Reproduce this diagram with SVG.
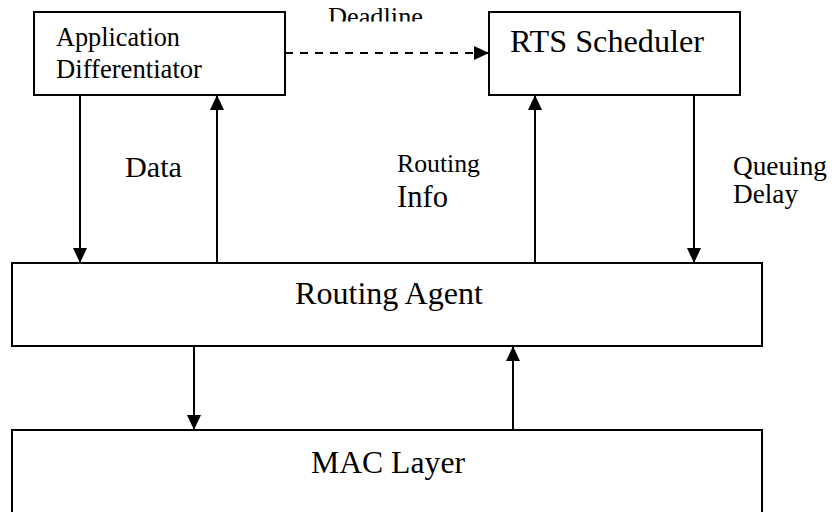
<svg xmlns="http://www.w3.org/2000/svg" width="832" height="512" viewBox="0 0 832 512">
<style>
.box{fill:#fff;stroke:#000;stroke-width:2}
.t{font-family:"Liberation Serif","Times New Roman",serif;fill:#000}
.ln{stroke:#000;stroke-width:2;fill:none}
.dash{stroke-dasharray:8 7}
</style>
<defs>
<marker id="ah" markerUnits="userSpaceOnUse" markerWidth="15" markerHeight="14" refX="15" refY="7" orient="auto">
<path d="M0,0 L15,7 L0,14 z" fill="#000"/>
</marker>
<clipPath id="clipTop"><rect x="0" y="0" width="832" height="21.5"/></clipPath>
</defs>
<rect width="832" height="512" fill="#fff"/>
<g id="app">
<rect class="box" x="34" y="12" width="251" height="83"/>
<text class="t" x="56" y="46" font-size="28" textLength="124" lengthAdjust="spacingAndGlyphs">Application</text>
<text class="t" x="56" y="78" font-size="28" textLength="146" lengthAdjust="spacingAndGlyphs">Differentiator</text>
</g>
<g id="rts">
<rect class="box" x="489" y="12" width="251" height="83"/>
<text class="t" x="510" y="52" font-size="32" textLength="194" lengthAdjust="spacingAndGlyphs">RTS Scheduler</text>
</g>
<g id="routing">
<rect class="box" x="12" y="263" width="750" height="83"/>
<text class="t" x="295" y="304" font-size="32" textLength="188" lengthAdjust="spacingAndGlyphs">Routing Agent</text>
</g>
<g id="mac">
<rect class="box" x="12" y="430" width="750" height="100"/>
<text class="t" x="311" y="473" font-size="32" textLength="154" lengthAdjust="spacingAndGlyphs">MAC Layer</text>
</g>
<g id="connectors">
<line class="ln dash" x1="285" y1="53" x2="489" y2="53" marker-end="url(#ah)"/>
<line class="ln" x1="80" y1="95" x2="80" y2="263" marker-end="url(#ah)"/>
<line class="ln" x1="217" y1="263" x2="217" y2="95" marker-end="url(#ah)"/>
<line class="ln" x1="535" y1="263" x2="535" y2="95" marker-end="url(#ah)"/>
<line class="ln" x1="694" y1="95" x2="694" y2="263" marker-end="url(#ah)"/>
<line class="ln" x1="194" y1="346" x2="194" y2="430" marker-end="url(#ah)"/>
<line class="ln" x1="513" y1="430" x2="513" y2="346" marker-end="url(#ah)"/>
</g>
<g id="labels">
<text class="t" x="328" y="25" font-size="26" textLength="95" lengthAdjust="spacingAndGlyphs" clip-path="url(#clipTop)">Deadline</text>
<text class="t" x="125" y="177" font-size="30" textLength="57" lengthAdjust="spacingAndGlyphs">Data</text>
<text class="t" x="397" y="172" font-size="25" textLength="83" lengthAdjust="spacingAndGlyphs">Routing</text>
<text class="t" x="397" y="207" font-size="31" textLength="51" lengthAdjust="spacingAndGlyphs">Info</text>
<text class="t" x="733" y="175" font-size="27" textLength="94" lengthAdjust="spacingAndGlyphs">Queuing</text>
<text class="t" x="733" y="203" font-size="27" textLength="65" lengthAdjust="spacingAndGlyphs">Delay</text>
</g>
</svg>
